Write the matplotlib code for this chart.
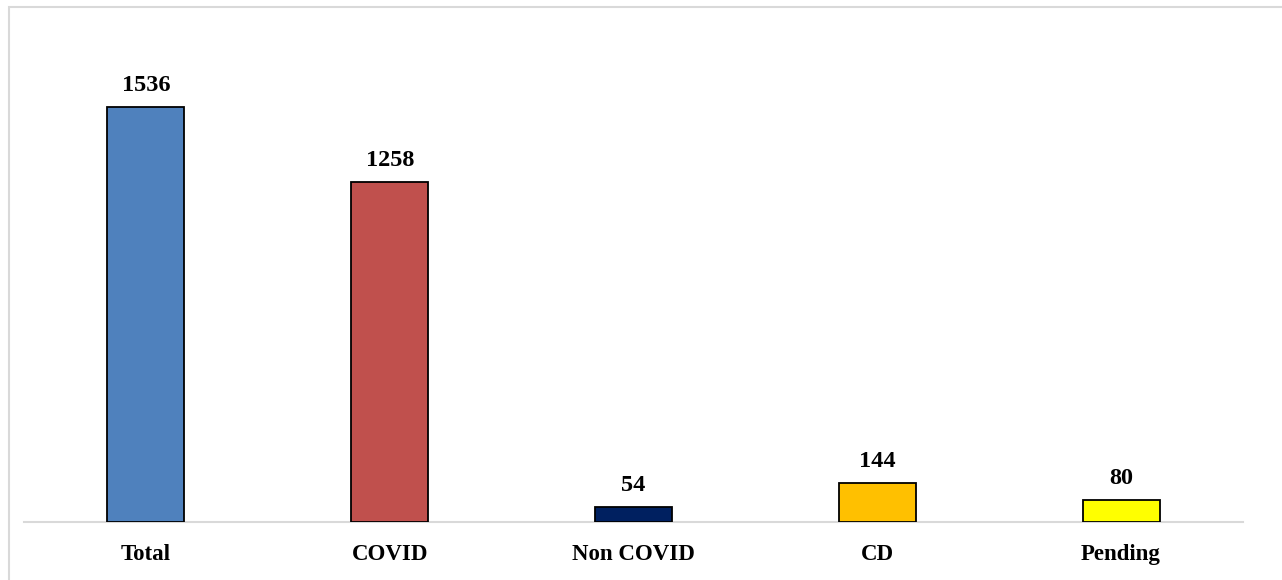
import matplotlib.pyplot as plt
from matplotlib.patches import Rectangle

# Case counts by category
categories = ['Total', 'COVID', 'Non COVID', 'CD', 'Pending']
counts = [1536, 1258, 54, 144, 80]
colors = ['#4F81BD', '#C0504D', '#002060', '#FFC000', '#FFFF00']

plt.rcParams['font.family'] = ['Liberation Serif', 'DejaVu Serif']

W, H = 1282, 580
fig = plt.figure(figsize=(W / 100, H / 100), dpi=100)

# light frame around the chart area
fig.add_artist(Rectangle((8.5 / W, -0.1), 1.2, (H - 7) / H + 0.1,
                         transform=fig.transFigure, fill=False,
                         edgecolor='#D9D9D9', linewidth=1.5))

ax = fig.add_axes([24 / W, (H - 521.5) / H, 1219 / W, 501.5 / H])
x = range(len(categories))
bars = ax.bar(x, counts, width=0.316, color=colors, edgecolor='black',
              linewidth=1.3, zorder=3)

for b, v in zip(bars, counts):
    ax.annotate(f'{v}', (b.get_x() + b.get_width() / 2, v),
                xytext=(0, 11.5), textcoords='offset points',
                ha='center', va='baseline', fontsize=17.5, fontweight='bold')

ax.set_xlim(-0.5, len(categories) - 0.5)
ax.set_ylim(0, 1858)
ax.set_xticks(list(x))
ax.set_xticklabels(categories, fontsize=16.5, fontweight='bold')
ax.tick_params(axis='x', length=0, pad=16.5)
ax.set_yticks([])
for s in ['top', 'left', 'right']:
    ax.spines[s].set_visible(False)
ax.spines['bottom'].set_color('#D9D9D9')
ax.spines['bottom'].set_linewidth(1.5)

fig.savefig('out.png', dpi=100)
